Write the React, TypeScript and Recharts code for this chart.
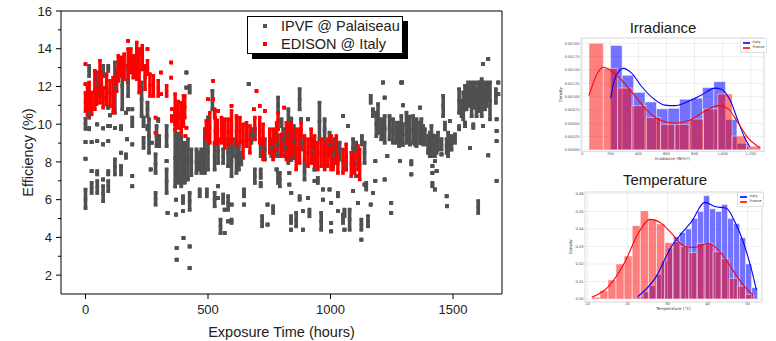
import React from "react";
import {
  ScatterChart,
  Scatter,
  ErrorBar,
  XAxis,
  YAxis,
  Label,
  ComposedChart,
  Line,
  CartesianGrid,
  ReferenceArea,
} from "recharts";

// Efficiency vs exposure time. Each entry is [hours, low, high]:
// a vertical run of daily readings, or a single reading when high is left out.
const ipvfPoints: number[][] = [
  [0, 5.56, 6.53], [0, 8.17], [0, 9.05], [0, 9.76, 10.29],
  [15, 12.56, 13.09], [15, 10.35, 10.79], [15, 9.73, 9.81],
  [25, 9.05], [25, 7.51], [25, 6.36, 6.89],
  [48, 11.5, 12.74], [48, 9.99], [48, 9.1], [48, 7.34, 7.51], [48, 6.36, 6.98],
  [72, 12.56, 13.09], [72, 9.78], [72, 8.93], [72, 7.07], [72, 5.92, 6.71],
  [93, 12.83, 13.09], [93, 10.88], [93, 9.9], [93, 9.1], [93, 7.34, 7.51], [93, 6.45, 6.98],
  [100, 10.47], [100, 9.9],
  [120, 10.61, 13.27], [120, 9.8], [120, 7.34, 8.13],
  [145, 9.73, 9.9], [145, 8.49], [145, 7.34, 7.78],
  [150, 10.79, 13.27],
  [165, 10.61], [165, 8.22, 8.4], [170, 9.2],
  [174, 11.5, 13.09], [174, 10.79],
  [191, 10.79], [191, 9.9, 10.35], [191, 8.93], [191, 7.25], [191, 6.71],
  [229, 10.43, 12.21],
  [237, 9.9, 10.35], [237, 8.75, 9.28],
  [253, 10.43, 11.14], [253, 9.73, 9.9],
  [259, 8.49, 10.26], [266, 7.6], [270, 9.02],
  [286, 7.42, 8.4], [286, 5.74, 6.36],
  [290, 8.84, 9.9], [297, 10.17, 10.26], [301, 8.84, 9.37],
  [331, 8.84, 9.9], [331, 8.04], [331, 6.36, 7.6], [335, 5.3],
  [366, 6.7, 9.7], [378, 6.9, 9.5], [370, 6.0], [370, 5.21], [372, 3.44], [372, 2.82],
  [391, 6.71, 9.37], [405, 6.9, 9.0], [398, 5.83, 6.18], [398, 5.39], [400, 3.97],
  [412, 12.74], [412, 11.94],
  [418, 7.07, 9.2], [432, 7.3, 8.66], [425, 5.47, 6.36], [425, 3.52], [425, 2.37], [425, 11.68, 12.03],
  [453, 7.42, 8.66], [462, 7.6, 8.5], [473, 7.42, 8.66], [466, 6.18, 6.54],
  [487, 7.42, 9.73], [500, 7.6, 9.5], [495, 6.18, 6.54], [500, 10.35],
  [518, 10.79, 11.76],
  [527, 7.6, 9.02], [527, 5.65, 6.36],
  [541, 7.95, 9.2], [541, 6.71], [541, 6.09],
  [551, 4.23, 4.94],
  [562, 7.95, 8.66], [562, 5.83, 6.27],
  [568, 5.47], [568, 4.23],
  [582, 7.78, 9.2], [582, 5.47, 6.18], [582, 4.85],
  [596, 7.25, 8.84], [596, 5.74], [596, 4.77, 4.94],
  [602, 8.31, 9.2],
  [616, 7.42, 9.02], [626, 7.6, 8.84], [636, 7.87, 8.49],
  [647, 6.18, 6.54], [647, 5.74],
  [666, 12.12],
  [677, 9.02, 9.73],
  [691, 9.2, 9.73], [691, 6.89, 7.6],
  [715, 8.31, 9.2], [715, 7.16, 7.6], [715, 6.71, 6.89],
  [721, 4.59, 5.12],
  [732, 8.13, 9.2],
  [743, 5.74], [743, 4.68],
  [759, 8.31, 9.2], [766, 5.3, 5.65],
  [773, 8.31, 9.55], [786, 8.31, 9.4], [780, 7.6],
  [786, 10.61, 11.41], [786, 6.89, 7.42], [793, 6.71, 7.42],
  [800, 9.9, 10.26], [807, 8.66, 9.73], [814, 8.31, 9.2],
  [828, 7.95, 10.79], [840, 8.1, 10.3], [850, 8.2, 9.9], [832, 7.42], [832, 6.8], [840, 6.36],
  [839, 4.77, 5.12], [839, 4.41], [860, 4.59, 5.3],
  [874, 10.79, 11.85], [874, 6.0, 6.18],
  [880, 10.26], [880, 8.66, 9.37],
  [887, 4.41], [887, 5.39], [894, 7.07, 7.95],
  [908, 10.26], [908, 6.09], [914, 5.12, 5.47],
  [928, 7.95, 9.2], [935, 7.6], [935, 6.98], [948, 6.89, 7.16],
  [955, 9.2, 11.14], [962, 4.41, 5.3], [969, 6.54], [969, 6.0],
  [976, 9.2, 10.26], [996, 8.31, 9.55], [996, 6.54],
  [1003, 5.83], [1003, 4.77], [1003, 4.32],
  [1010, 7.78, 8.93], [1017, 7.95, 9.2],
  [1030, 6.18, 6.36], [1030, 5.39], [1037, 8.13, 9.02],
  [1051, 10.43], [1051, 4.77, 5.21], [1057, 5.12, 5.47], [1057, 4.41],
  [1064, 7.6, 7.95], [1071, 9.9], [1078, 4.41, 5.47],
  [1092, 8.31, 9.2], [1092, 6.45],
  [1105, 8.49, 9.02], [1105, 7.95], [1105, 7.25], [1112, 5.83],
  [1126, 4.41, 4.94], [1126, 3.88], [1128, 8.93, 9.37],
  [1139, 7.95, 9.02], [1139, 6.8], [1146, 6.54, 6.89], [1153, 4.59, 5.12],
  [1164, 11.14, 11.5], [1164, 5.74], [1173, 10.43, 10.79], [1173, 6.36],
  [1183, 7.0], [1183, 8.04],
  [1187, 9.37, 10.61], [1194, 9.55, 11.06], [1207, 9.2, 10.26],
  [1214, 12.21], [1221, 11.41], [1221, 9.02, 10.43], [1221, 7.07],
  [1232, 8.31], [1241, 9.2, 10.43], [1248, 5.83], [1248, 5.3],
  [1255, 9.02, 10.26], [1269, 9.02, 10.08],
  [1289, 12.21], [1289, 9.02, 10.43],
  [1280, 8.84, 10.08], [1295, 8.9, 10.0], [1292, 12.21], [1296, 11.0], [1283, 8.04],
  [1310, 9.02, 10.61], [1322, 9.1, 10.4], [1324, 8.93], [1330, 7.87, 8.04], [1330, 7.34],
  [1337, 9.02, 10.43], [1344, 8.93, 10.08], [1351, 8.84, 10.26],
  [1365, 10.88], [1365, 8.99, 10.08], [1371, 9.2, 10.26],
  [1378, 8.93, 9.9], [1385, 8.93, 9.73], [1398, 8.49, 9.37],
  [1405, 8.31, 9.55], [1412, 8.31, 9.9], [1419, 8.4, 9.4],
  [1416, 7.78], [1416, 7.42], [1416, 6.71, 6.89],
  [1426, 8.31, 9.37], [1426, 6.54], [1426, 8.04],
  [1433, 8.49, 9.2], [1433, 7.51], [1439, 8.66, 9.55],
  [1453, 8.66, 9.2], [1453, 8.4], [1460, 10.43, 11.5], [1467, 9.73, 10.08],
  [1474, 8.49, 9.2], [1474, 6.18], [1476, 5.65],
  [1480, 8.31, 9.55], [1487, 10.17], [1487, 8.66, 9.2], [1494, 8.66, 9.37],
  [1508, 9.02, 9.46],
  [1525, 10.61, 11.85], [1525, 9.73, 9.9], [1535, 10.43, 11.23], [1542, 10.26, 11.68],
  [1549, 10.79, 12.03], [1549, 10.08], [1549, 9.9], [1555, 10.79, 11.85],
  [1562, 10.97, 12.21], [1569, 11.14, 11.85], [1569, 8.75], [1576, 10.43, 12.21],
  [1583, 10.88, 11.76], [1583, 9.81, 9.99], [1589, 11.32, 12.21], [1596, 10.43, 11.85],
  [1603, 10.7, 12.21], [1603, 5.3, 5.92], [1610, 10.97, 12.21], [1617, 10.43, 12.38],
  [1623, 13.18], [1623, 11.14, 12.21], [1623, 9.9], [1630, 10.79, 11.85],
  [1637, 10.97, 12.21], [1644, 13.45], [1644, 11.32, 12.12], [1644, 8.35],
  [1651, 10.26, 12.21], [1675, 11.14, 11.85],
  [1678, 10.26], [1678, 9.64], [1678, 9.1], [1678, 7.0], [1685, 12.21], [1685, 11.59],
];

const edisonPoints: number[][] = [
  [0, 10.7, 11.67], [0, 13.18], [0, 12.12], [8, 10.5, 12.0],
  [15, 10.43, 12.21], [25, 10.52, 11.68], [38, 10.79, 12.83], [45, 11.06, 12.03],
  [59, 11.14, 13.36], [65, 11.5, 12.8], [72, 10.88, 11.94], [86, 11.05, 12.65],
  [100, 10.97, 12.3], [113, 10.61, 12.47], [127, 11.76, 12.9], [134, 12.3, 13.62],
  [147, 12.56, 13.54], [158, 12.38, 13.71], [174, 12.21, 13.98], [174, 14.42],
  [185, 12.74, 13.98], [195, 12.47, 13.62], [209, 12.38, 14.33], [219, 11.68, 13.98],
  [232, 12.9, 14.16], [243, 11.85, 13.09], [253, 13.98], [253, 12.65, 13.36],
  [263, 11.5, 12.65], [277, 11.5, 12.56], [286, 10.35], [286, 9.55],
  [297, 11.5, 12.3], [308, 12.74], [308, 11.59], [331, 11.5, 12.03],
  [350, 13.27], [350, 12.47], [352, 10.79], [352, 10.17, 10.43], [365, 10.0, 10.79],
  [366, 9.73, 11.59], [378, 9.8, 11.2], [391, 9.55, 11.14], [400, 9.9, 11.5],
  [405, 10.35, 11.5], [412, 9.81], [408, 9.37],
  [493, 9.2, 10.17], [500, 11.32], [507, 9.02, 10.61],
  [521, 12.3], [521, 11.32], [527, 10.35, 10.79],
  [530, 8.93, 10.35], [538, 9.0, 10.2], [541, 10.7],
  [555, 9.02, 10.35], [568, 8.75, 10.26], [582, 8.93, 10.26],
  [596, 10.97], [596, 9.02, 10.7], [616, 8.84, 10.43], [630, 9.02, 10.35],
  [643, 8.22, 9.99], [657, 8.84, 10.08], [671, 8.49, 9.9], [687, 10.79],
  [691, 9.2, 10.35], [698, 11.76], [711, 10.97], [711, 9.02, 10.35],
  [725, 8.13, 9.99], [732, 10.7], [752, 8.49, 9.73], [766, 8.13, 9.73],
  [780, 8.66, 10.08], [786, 9.73, 10.61], [800, 8.31, 9.46], [811, 10.88],
  [820, 8.13, 10.08],
  [826, 8.13, 9.99], [840, 8.31, 10.08], [860, 7.6, 9.73], [874, 7.95, 9.73],
  [880, 9.37, 10.08], [894, 8.13, 9.37], [908, 7.78, 9.2], [921, 7.95, 9.73],
  [935, 7.6, 9.37], [948, 7.6, 9.02], [962, 7.78, 9.2], [976, 7.6, 9.02],
  [989, 7.78, 9.2], [1003, 7.6, 9.37], [1010, 7.6, 8.66], [1024, 7.95, 9.37],
  [1030, 7.42, 8.49], [1051, 7.42, 8.66], [1064, 7.6, 8.93], [1085, 7.25, 8.49],
  [1098, 7.42, 8.31], [1112, 7.6, 8.84], [1119, 7.07, 8.66],
];

const hourTicks = [0, 500, 1000, 1500];
const effTicks = [2, 4, 6, 8, 10, 12, 14, 16];
const effAllTicks = [2, 3, 4, 5, 6, 7, 8, 9, 10, 11, 12, 13, 14, 15, 16];

// Irradiance histograms (density) and KDE curves
const irrFranceEdges = [48, 150, 252, 354, 456, 558, 660, 762, 864, 966, 1068, 1170, 1272];
const irrFranceDensity = [0.002, 0.00153, 0.00116, 0.00083, 0.00061, 0.00048, 0.00048, 0.00058, 0.00077, 0.00105, 0.00026, 0.00007];
const irrItalyEdges = [202, 284, 366, 447, 529, 611, 693, 775, 857, 938, 1020, 1102, 1184];
const irrItalyDensity = [0.00196, 0.0014, 0.00108, 0.0009, 0.00077, 0.00078, 0.00095, 0.00097, 0.00117, 0.00128, 0.00057, 0.00012];
const irrFranceKdeX = [47, 150, 257, 352, 458, 553, 660, 767, 874, 969, 1040, 1112, 1183, 1266];
const irrFranceKdeY = [0.00102, 0.00155, 0.00137, 0.00109, 0.00075, 0.00056, 0.0005, 0.00056, 0.00073, 0.00083, 0.00077, 0.0005, 0.00022, 0.00004];
const irrItalyKdeX = [202, 233, 292, 352, 423, 518, 589, 660, 755, 850, 945, 992, 1052, 1112, 1159, 1195];
const irrItalyKdeY = [0.00097, 0.00134, 0.00153, 0.00144, 0.00119, 0.00094, 0.00084, 0.00083, 0.00091, 0.00103, 0.00116, 0.00114, 0.00094, 0.00053, 0.00022, 0.00006];
const irrXTicks = [0, 200, 400, 600, 800, 1000, 1200];
const irrYTicks = [0, 0.00025, 0.0005, 0.00075, 0.001, 0.00125, 0.0015, 0.00175, 0.002];

// Temperature histograms (density) and KDE curves
const tempFranceEdges = [11.1, 13.12, 15.14, 17.16, 19.18, 21.2, 23.22, 25.24, 27.26, 29.28, 31.3, 33.32, 35.34, 37.36, 39.38, 41.4, 43.42, 45.44, 47.46, 49.48, 51.5];
const tempFranceDensity = [0.001, 0.0048, 0.0109, 0.02, 0.0246, 0.0419, 0.0503, 0.0455, 0.0429, 0.0322, 0.0328, 0.03, 0.0265, 0.0318, 0.0318, 0.027, 0.023, 0.0118, 0.0074, 0.0027];
const tempItalyEdges = [22.5, 24, 25.5, 27, 28.5, 30, 31.5, 33, 34.5, 36, 37.5, 39, 40.5, 42, 43.5, 45, 46.5, 48, 49.5, 51, 52.5];
const tempItalyDensity = [0.001, 0.004, 0.0075, 0.014, 0.0215, 0.029, 0.0355, 0.038, 0.04, 0.046, 0.05, 0.059, 0.0515, 0.05, 0.054, 0.046, 0.043, 0.035, 0.02, 0.0065];
const tempFranceKdeX = [11.1, 15.2, 19.4, 22.7, 25.6, 28.5, 31, 34.4, 36.8, 40.2, 42.7, 45.2, 47.7, 49.7, 51.4];
const tempFranceKdeY = [0.001, 0.007, 0.0213, 0.0375, 0.0455, 0.0432, 0.0375, 0.03, 0.0295, 0.0318, 0.028, 0.0204, 0.0118, 0.006, 0.0023];
const tempItalyKdeX = [22.55, 26.9, 31, 33.5, 36, 39.3, 41.8, 44.7, 46.8, 49.3, 51, 52.2];
const tempItalyKdeY = [0.0013, 0.0118, 0.03, 0.0375, 0.0442, 0.0552, 0.0528, 0.0518, 0.0442, 0.03, 0.0166, 0.0051];
const tempXTicks = [10, 20, 30, 40, 50];
const tempYTicks = [0, 0.01, 0.02, 0.03, 0.04, 0.05, 0.06];

const GRAY = "#505050";
const RED = "#ff0000";

const toRows = (pts: number[][]) =>
  pts.map(([hours, lo, hi = lo]) => ({
    hours,
    eff: (lo + hi) / 2,
    spread: [(hi - lo) / 2, (hi - lo) / 2],
  }));

const toKde = (xs: number[], ys: number[]) => xs.map((x, i) => ({ x, y: ys[i] }));

const square = (size: number) => (props: any) =>
  <rect x={props.cx - size / 2} y={props.cy - size / 2} width={size} height={size} fill={props.fill} />;

// left axis tick: long tick + label on even values, short minor tick on odd ones
const EffTick = (props: any) => {
  const { x, y, payload } = props;
  const major = payload.value % 2 === 0;
  return (
    <g>
      <line x1={x} x2={x - (major ? 5 : 3)} y1={y} y2={y} stroke="#000" />
      {major && (
        <text x={x - 9} y={y} dy="0.36em" textAnchor="end" fill="#222" fontSize={13}>
          {payload.value}
        </text>
      )}
    </g>
  );
};

type PanelProps = {
  title: string;
  titleTop: number;
  left: number;
  top: number;
  width: number;
  height: number;
  margin: { top: number; right: number; bottom: number; left: number };
  xAxisHeight: number;
  xLabel: string;
  xLabelOffset: number;
  yLabelOffset: number;
  tickGap: number;
  xDomain: [number, number];
  yDomain: [number, number];
  xTicks: number[];
  yTicks: number[];
  yDigits: number;
  italyEdges: number[];
  italyDensity: number[];
  franceEdges: number[];
  franceDensity: number[];
  italyKde: { x: number; y: number }[];
  franceKde: { x: number; y: number }[];
  legendLeft: number;
  legendTop: number;
};

const tinyTick = { fontSize: 3.6, fill: "#444", fontFamily: "DejaVu Sans" };

const DistPanel = (p: PanelProps) => (
  <>
    <div
      style={{
        position: "absolute",
        left: p.left,
        top: p.titleTop,
        width: p.width,
        textAlign: "center",
        fontSize: 15,
        lineHeight: "18px",
        color: "#1a1a1a",
      }}
    >
      {p.title}
    </div>
    <div style={{ position: "absolute", left: p.left, top: p.top }}>
      <ComposedChart width={p.width} height={p.height} margin={p.margin}>
        <CartesianGrid stroke="#e2e2e2" strokeWidth={0.6} />
        <XAxis
          type="number"
          dataKey="x"
          domain={p.xDomain}
          ticks={p.xTicks}
          interval={0}
          tickFormatter={(v: number) => v.toLocaleString("en-US")}
          height={p.xAxisHeight}
          tickSize={0}
          tickMargin={p.tickGap}
          axisLine={false}
          tick={tinyTick}
          allowDataOverflow
        >
          <Label
            value={p.xLabel}
            position="insideBottom"
            offset={p.xLabelOffset}
            style={{ fontSize: 4, fill: "#333", fontFamily: "DejaVu Sans" }}
          />
        </XAxis>
        <YAxis
          type="number"
          domain={p.yDomain}
          ticks={p.yTicks}
          interval={0}
          tickFormatter={(v: number) => v.toFixed(p.yDigits)}
          width={22}
          tickSize={0}
          tickMargin={1.5}
          axisLine={false}
          tick={tinyTick}
          allowDataOverflow
        >
          <Label
            value="Density"
            angle={-90}
            position="insideLeft"
            offset={p.yLabelOffset}
            style={{ textAnchor: "middle", fontSize: 4, fill: "#333", fontFamily: "DejaVu Sans" }}
          />
        </YAxis>
        <ReferenceArea
          x1={p.xDomain[0]}
          x2={p.xDomain[1]}
          y1={p.yDomain[0]}
          y2={p.yDomain[1]}
          fill="none"
          stroke="#d4d4d4"
          strokeWidth={0.6}
        />
        {p.italyDensity.map((d, i) => (
          <ReferenceArea
            key={"it" + i}
            x1={p.italyEdges[i]}
            x2={p.italyEdges[i + 1]}
            y1={0}
            y2={d}
            fill="#0000ff"
            fillOpacity={0.55}
            stroke="#ffffff"
            strokeOpacity={0.8}
            strokeWidth={0.6}
          />
        ))}
        {p.franceDensity.map((d, i) => (
          <ReferenceArea
            key={"fr" + i}
            x1={p.franceEdges[i]}
            x2={p.franceEdges[i + 1]}
            y1={0}
            y2={d}
            fill="#ff0000"
            fillOpacity={0.5}
            stroke="#ffffff"
            strokeOpacity={0.8}
            strokeWidth={0.6}
          />
        ))}
        <Line
          data={p.italyKde}
          dataKey="y"
          type="monotone"
          stroke="#0000ff"
          strokeWidth={1.1}
          dot={false}
          isAnimationActive={false}
        />
        <Line
          data={p.franceKde}
          dataKey="y"
          type="monotone"
          stroke="#ff0000"
          strokeWidth={1.1}
          dot={false}
          isAnimationActive={false}
        />
      </ComposedChart>
    </div>
    <div
      style={{
        position: "absolute",
        left: p.legendLeft,
        top: p.legendTop,
        fontSize: 3.6,
        lineHeight: "5.4px",
        fontFamily: "DejaVu Sans",
        color: "#333",
        background: "rgba(255,255,255,0.8)",
        padding: "1px 2px",
        border: "0.5px solid #e0e0e0",
        borderRadius: 1,
      }}
    >
      {[
        ["Italy", "#3333ff"],
        ["France", "#ff3333"],
      ].map(([name, color]) => (
        <div key={name} style={{ display: "flex", alignItems: "center" }}>
          <span style={{ width: 7, height: 1.6, background: color, marginRight: 2.5, display: "inline-block" }} />
          {name}
        </div>
      ))}
    </div>
  </>
);

const App = () => {
  const ipvfRows = toRows(ipvfPoints);
  const edisonRows = toRows(edisonPoints);
  const axisTick = { fill: "#222", fontSize: 13 };

  return (
    <div
      style={{
        position: "absolute",
        left: 0,
        top: 0,
        width: 776,
        height: 341,
        background: "#fff",
        fontFamily: "'Liberation Sans', Arial, sans-serif",
      }}
    >
      <div style={{ position: "absolute", left: 0, top: 0 }}>
        <ScatterChart width={515} height={341} margin={{ top: 11, right: 13, bottom: 0, left: 21 }}>
          <XAxis
            type="number"
            dataKey="hours"
            domain={[-100, 1700]}
            ticks={hourTicks}
            interval={0}
            height={47}
            tickSize={5}
            tickMargin={6}
            stroke="#000"
            tick={axisTick}
            allowDataOverflow
          >
            <Label
              value="Exposure Time (hours)"
              position="insideBottom"
              offset={4}
              style={{ fill: "#222", fontSize: 14.5 }}
            />
          </XAxis>
          <XAxis
            xAxisId="top"
            orientation="top"
            type="number"
            dataKey="hours"
            domain={[-100, 1700]}
            ticks={hourTicks}
            interval={0}
            height={1}
            mirror
            tick={false}
            tickSize={5}
            stroke="#000"
            allowDataOverflow
          />
          <YAxis
            type="number"
            dataKey="eff"
            domain={[1, 16]}
            ticks={effAllTicks}
            interval={0}
            width={40}
            tickSize={0}
            tickMargin={0}
            tickLine={false}
            stroke="#000"
            tick={<EffTick />}
            allowDataOverflow
          >
            <Label
              value="Efficiency (%)"
              angle={-90}
              position="insideLeft"
              offset={6.5}
              style={{ textAnchor: "middle", fill: "#222", fontSize: 14.5 }}
            />
          </YAxis>
          <YAxis
            yAxisId="right"
            orientation="right"
            type="number"
            dataKey="eff"
            domain={[1, 16]}
            ticks={effTicks}
            interval={0}
            width={1}
            mirror
            tick={false}
            tickSize={5}
            stroke="#000"
            allowDataOverflow
          />
          <Scatter name="IPVF @ Palaiseau" data={ipvfRows} fill={GRAY} shape={square(3.6)} isAnimationActive={false}>
            <ErrorBar
              dataKey="spread"
              direction="y"
              width={0}
              stroke={GRAY}
              strokeWidth={3.6}
              strokeLinecap="square"
              isAnimationActive={false}
            />
          </Scatter>
          <Scatter
            name="EDISON @ Italy"
            data={edisonRows}
            xAxisId="top"
            yAxisId="right"
            fill={RED}
            shape={square(3.4)}
            isAnimationActive={false}
          >
            <ErrorBar
              dataKey="spread"
              direction="y"
              width={0}
              stroke={RED}
              strokeWidth={3.4}
              strokeLinecap="square"
              isAnimationActive={false}
            />
          </Scatter>
        </ScatterChart>
      </div>

      {/* legend box with drop shadow */}
      <div
        style={{
          position: "absolute",
          left: 247,
          top: 16,
          width: 154,
          height: 36,
          border: "1px solid #000",
          boxShadow: "5px 5px 0 #000",
          background: "#fff",
          fontSize: 14.5,
          color: "#222",
        }}
      >
        {[
          ["IPVF @ Palaiseau", GRAY],
          ["EDISON @ Italy", RED],
        ].map(([name, color]) => (
          <div key={name} style={{ position: "relative", height: 18, lineHeight: "18px", paddingLeft: 33 }}>
            <span
              style={{
                position: "absolute",
                left: 15,
                top: 7,
                width: 3.6,
                height: 3.6,
                background: color,
              }}
            />
            {name}
          </div>
        ))}
      </div>

      <DistPanel
        title="Irradiance"
        titleTop={19}
        left={556}
        top={10}
        width={214}
        height={162}
        margin={{ top: 28, right: 6, bottom: 8.5, left: 3 }}
        xAxisHeight={12}
        xLabel="Irradiance (W/m²)"
        xLabelOffset={4}
        yLabelOffset={2}
        tickGap={1}
        xDomain={[-9, 1295]}
        yDomain={[-0.00003, 0.0021]}
        xTicks={irrXTicks}
        yTicks={irrYTicks}
        yDigits={5}
        italyEdges={irrItalyEdges}
        italyDensity={irrItalyDensity}
        franceEdges={irrFranceEdges}
        franceDensity={irrFranceDensity}
        italyKde={toKde(irrItalyKdeX, irrItalyKdeY)}
        franceKde={toKde(irrFranceKdeX, irrFranceKdeY)}
        legendLeft={740}
        legendTop={38}
      />
      <DistPanel
        title="Temperature"
        titleTop={171}
        left={560}
        top={168}
        width={210}
        height={152}
        margin={{ top: 24, right: 8, bottom: 8, left: 3 }}
        xAxisHeight={10}
        xLabel="Temperature (°C)"
        xLabelOffset={2.5}
        yLabelOffset={7.5}
        tickGap={0.5}
        xDomain={[9.4, 53.6]}
        yDomain={[-0.0017, 0.0611]}
        xTicks={tempXTicks}
        yTicks={tempYTicks}
        yDigits={2}
        italyEdges={tempItalyEdges}
        italyDensity={tempItalyDensity}
        franceEdges={tempFranceEdges}
        franceDensity={tempFranceDensity}
        italyKde={toKde(tempItalyKdeX, tempItalyKdeY)}
        franceKde={toKde(tempFranceKdeX, tempFranceKdeY)}
        legendLeft={737}
        legendTop={192}
      />
    </div>
  );
};

export default App;
